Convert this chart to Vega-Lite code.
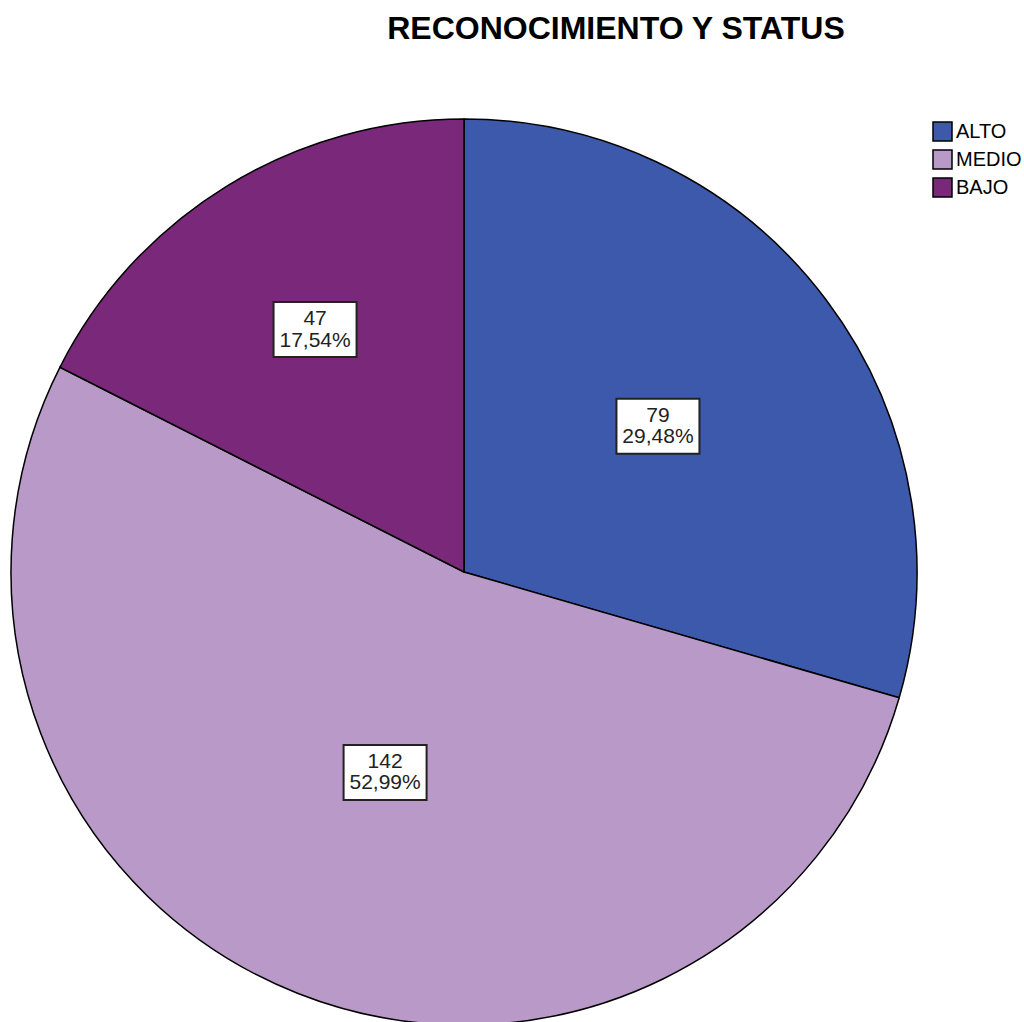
{
  "$schema": "https://vega.github.io/schema/vega-lite/v6.json",
  "width": 928,
  "height": 906,
  "autosize": "none",
  "padding": {"left": 0, "top": 119, "right": 96, "bottom": 0},
  "background": "white",
  "title": {
    "text": "RECONOCIMIENTO Y STATUS",
    "font": "Liberation Sans",
    "fontSize": 32,
    "fontWeight": "bold",
    "color": "#000000",
    "anchor": "middle",
    "dx": 152,
    "offset": 70
  },
  "data": {
    "values": [
      {"categoria": "ALTO", "n": 79, "orden": 1},
      {"categoria": "MEDIO", "n": 142, "orden": 2},
      {"categoria": "BAJO", "n": 47, "orden": 3}
    ]
  },
  "transform": [
    {"window": [{"op": "sum", "field": "n", "as": "acum"}], "sort": [{"field": "orden"}], "frame": [null, 0]},
    {"joinaggregate": [{"op": "sum", "field": "n", "as": "total"}]},
    {"calculate": "2 * PI * (datum.acum - datum.n / 2) / datum.total", "as": "medio"},
    {"calculate": "0.40 + 0.04 * datum.total / datum.n", "as": "k"},
    {"calculate": "datum.k * sin(datum.medio)", "as": "lx"},
    {"calculate": "datum.k * cos(datum.medio)", "as": "ly"},
    {"calculate": "[toString(datum.n), replace(format(datum.n / datum.total * 100, '.2f'), '.', ',') + '%']", "as": "etiqueta"}
  ],
  "layer": [
    {
      "mark": {"type": "arc", "stroke": "#000000", "strokeWidth": 1.5},
      "encoding": {
        "theta": {"field": "n", "type": "quantitative", "stack": true},
        "order": {"field": "orden", "type": "quantitative"},
        "color": {
          "field": "categoria",
          "type": "nominal",
          "sort": null,
          "scale": {"domain": ["ALTO", "MEDIO", "BAJO"], "range": ["#3d59ab", "#b899c8", "#7a287a"]},
          "legend": {
            "title": null,
            "orient": "right",
            "offset": 2,
            "symbolType": "square",
            "symbolSize": 361,
            "symbolStrokeColor": "#000000",
            "symbolStrokeWidth": 1.5,
            "symbolOpacity": 1,
            "labelFont": "Liberation Sans",
            "labelFontSize": 20,
            "labelColor": "#000000",
            "labelOffset": 3,
            "rowPadding": 3,
            "padding": 2
          }
        }
      }
    },
    {
      "mark": {
        "type": "point",
        "shape": "M-1,-0.663L1,-0.663L1,0.663L-1,0.663Z",
        "size": 6889,
        "filled": true,
        "fill": "#ffffff",
        "stroke": "#222222",
        "strokeWidth": 2,
        "opacity": 1
      },
      "encoding": {
        "x": {"field": "lx", "type": "quantitative", "scale": {"domain": [-1.0243, 1.0243]}, "axis": null},
        "y": {"field": "ly", "type": "quantitative", "scale": {"domain": [-1, 1]}, "axis": null}
      }
    },
    {
      "mark": {
        "type": "text",
        "font": "Liberation Sans",
        "fontSize": 21,
        "lineHeight": 21.5,
        "baseline": "middle",
        "align": "center",
        "dy": -10.5,
        "color": "#222222"
      },
      "encoding": {
        "x": {"field": "lx", "type": "quantitative", "scale": {"domain": [-1.0243, 1.0243]}, "axis": null},
        "y": {"field": "ly", "type": "quantitative", "scale": {"domain": [-1, 1]}, "axis": null},
        "text": {"field": "etiqueta"}
      }
    }
  ],
  "config": {"view": {"stroke": null}}
}
